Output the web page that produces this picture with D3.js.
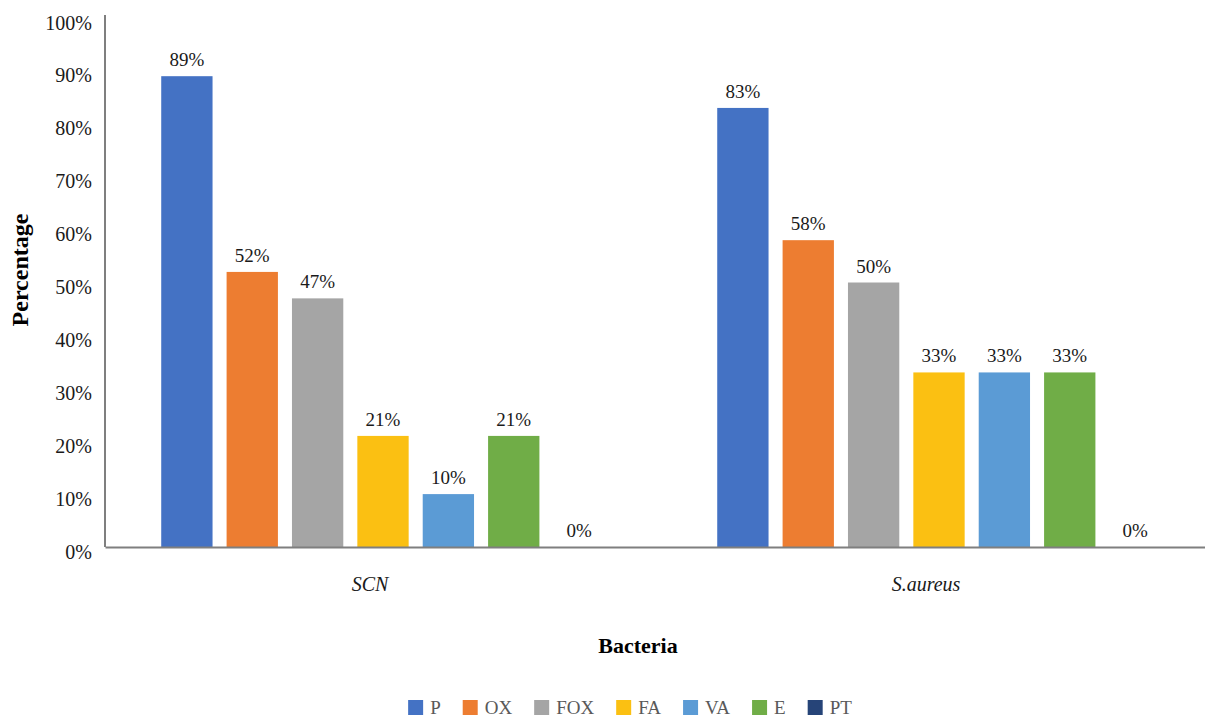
<!DOCTYPE html>
<html>
<head>
<meta charset="utf-8">
<script src="https://cdn.jsdelivr.net/npm/d3@7"></script>
<style>
  html, body { margin: 0; padding: 0; background: #fff; }
  svg { display: block; font-family: "Liberation Serif", "DejaVu Serif", serif; }
</style>
</head>
<body>
<svg id="chart" width="1205" height="718"></svg>
<script>
// Resistance rates per antibiotic, grouped by bacterium
const categories = ["SCN", "S.aureus"];
const series = ["P", "OX", "FOX", "FA", "VA", "E", "PT"];
const scnValues = [0.89, 0.52, 0.47, 0.21, 0.10, 0.21, 0.00];
const aureusValues = [0.83, 0.58, 0.50, 0.33, 0.33, 0.33, 0.00];
const yTicks = [0, 0.1, 0.2, 0.3, 0.4, 0.5, 0.6, 0.7, 0.8, 0.9, 1.0];
const colors = ["#4472C4", "#ED7D31", "#A5A5A5", "#FBC012", "#5B9BD5", "#70AD47", "#264478"];

const valuesByCategory = { "SCN": scnValues, "S.aureus": aureusValues };

const svg = d3.select("#chart");
const plotLeft = 105, plotBottom = 547, plotTop = 18, plotRight = 1217;

const x0 = d3.scaleBand().domain(categories).range([plotLeft, plotRight]);
const x1 = d3.scaleBand().domain(series).range([0, x0.bandwidth()])
  .paddingInner(0.215).paddingOuter(0.86);
const y = d3.scaleLinear().domain([0, 1]).range([plotBottom, plotTop]);
const color = d3.scaleOrdinal().domain(series).range(colors);

// Bars
const groups = svg.append("g").selectAll("g")
  .data(categories).join("g")
  .attr("transform", d => `translate(${x0(d)},0)`);

groups.selectAll("rect")
  .data(c => series.map((s, i) => ({ s, v: valuesByCategory[c][i] })))
  .join("rect")
  .attr("x", d => x1(d.s))
  .attr("y", d => y(d.v))
  .attr("width", x1.bandwidth())
  .attr("height", d => plotBottom - y(d.v))
  .attr("fill", d => color(d.s));

// Value labels
groups.selectAll("text")
  .data(c => series.map((s, i) => ({ s, v: valuesByCategory[c][i] })))
  .join("text")
  .attr("x", d => x1(d.s) + x1.bandwidth() / 2)
  .attr("y", d => y(d.v) - 10)
  .attr("text-anchor", "middle")
  .attr("font-size", 19)
  .attr("fill", "#1a1a1a")
  .text(d => d3.format(".0%")(d.v));

// Y axis
const yAxis = svg.append("g")
  .attr("transform", `translate(${plotLeft},0)`)
  .call(d3.axisLeft(y).tickValues(yTicks).tickFormat(d3.format(".0%")).tickSize(0).tickPadding(13));
yAxis.select(".domain").attr("stroke", "#7f7f7f").attr("stroke-width", 2)
  .attr("d", `M0,${plotTop - 3}V${plotBottom}`);
yAxis.selectAll("text")
  .attr("font-family", "Liberation Serif, serif")
  .attr("font-size", 20)
  .attr("fill", "#1a1a1a")
  .attr("dy", "0.55em");

// X axis
const xAxis = svg.append("g")
  .attr("transform", `translate(0,${plotBottom})`)
  .call(d3.axisBottom(x0).tickSize(0).tickPadding(30));
xAxis.select(".domain").attr("stroke", "#7f7f7f").attr("stroke-width", 2);
xAxis.selectAll("text")
  .attr("font-family", "Liberation Serif, serif")
  .attr("font-size", 20)
  .attr("font-style", "italic")
  .attr("fill", "#1a1a1a")
  .attr("dx", -13);

// Axis titles
svg.append("text")
  .attr("transform", "translate(28,270) rotate(-90)")
  .attr("text-anchor", "middle")
  .attr("font-weight", "bold")
  .attr("font-size", 24)
  .attr("fill", "#000")
  .text("Percentage");

svg.append("text")
  .attr("x", 638)
  .attr("y", 653)
  .attr("text-anchor", "middle")
  .attr("font-weight", "bold")
  .attr("font-size", 22)
  .attr("fill", "#000")
  .text("Bacteria");

// Legend
const legend = svg.append("g");
const items = legend.selectAll("g").data(series).join("g");
items.append("rect")
  .attr("width", 15).attr("height", 15)
  .attr("y", -15)
  .attr("fill", d => color(d));
items.append("text")
  .attr("x", 22)
  .attr("y", -1)
  .attr("font-size", 19)
  .attr("fill", "#595959")
  .text(d => d);
let cursor = 0;
items.each(function () {
  const w = d3.select(this).select("text").node().getComputedTextLength();
  d3.select(this).attr("transform", `translate(${cursor},0)`);
  cursor += 22 + w + 22;
});
const legendWidth = cursor - 22;
legend.attr("transform", `translate(${630 - legendWidth / 2},715)`);
</script>
</body>
</html>
